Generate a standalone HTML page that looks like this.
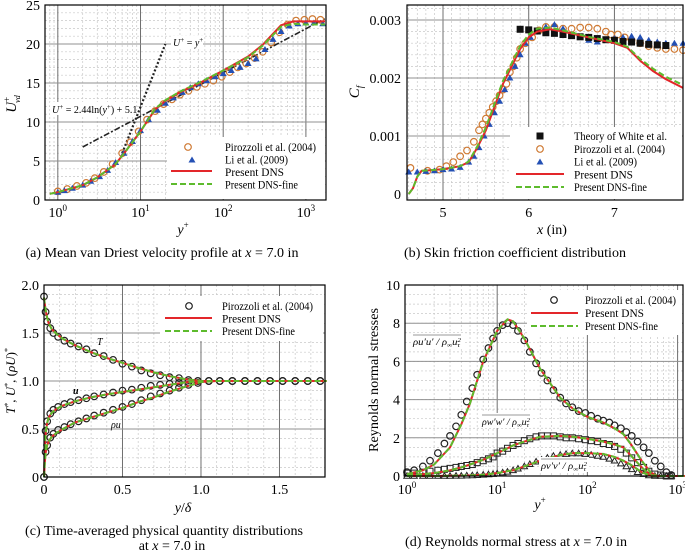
<!DOCTYPE html>
<html><head><meta charset="utf-8"><style>
body{margin:0;background:#fff}
svg{display:block;font-family:"Liberation Serif","Times New Roman",serif}
</style></head><body>
<svg id="fig" width="685" height="551" viewBox="0 0 685 551" xmlns="http://www.w3.org/2000/svg" font-family="Liberation Serif, Times New Roman, serif"></svg>
<script>
// ---------- Panel (a) data ----------
const aDnsY=[0.8,1,2,3,5,7,10,15,20,30,50,100,200,300,500,700,1000,1700];
const aDnsU=[0.8,1,1.9,2.9,4.6,6.6,8.8,11.6,12.7,13.8,14.9,16.6,18.4,19.9,22.4,22.9,22.9,22.9];
const aFineU=[0.8,1,1.9,2.9,4.6,6.6,8.8,11.7,12.8,13.9,15.0,16.6,18.3,19.8,22.2,22.6,22.5,22.5];
const aPirY=[1,1.3,1.7,2.2,2.8,3.6,4.6,6,7.5,9.5,12,15,19,24,30,38,48,60,76,96,120,150,190,240,300,380,480,600,760,960,1200,1500];
const aPirU=[1.1,1.4,1.8,2.2,2.8,3.6,4.6,6,7.4,8.8,10.3,11.4,12.3,12.9,13.5,14,14.5,14.9,15.3,15.8,16.4,17,17.5,18.2,19,20.2,21.5,22.5,23,23.1,23.2,23.1];
const aLiY=[1,1.2,1.5,2,2.5,3.2,4,5,6.3,8,10,12.5,16,20,25,32,40,50,63,80,100,125,160,200,250,320,400,500,630,800,1000,1250,1600];
const aLiU=[1,1.2,1.5,1.9,2.4,3,3.8,4.8,6,7.5,8.9,10.3,11.5,12.4,13.1,13.8,14.4,14.9,15.3,15.8,16.2,16.6,17,17.5,18.1,19.3,20.6,21.6,22.3,22.6,22.7,22.7,22.6];
const aVisY=[6,20];const aLogY=[2,1700];
// ---------- Panel (b) data ----------
const bDnsX=[4.6,4.65,4.7,4.75,4.85,5,5.2,5.3,5.4,5.5,5.6,5.7,5.8,5.9,6,6.1,6.25,6.4,6.7,7,7.15,7.3,7.45,7.6,7.8];
const bDnsC=[0,0.0001,0.0003,0.0004,0.00041,0.00043,0.00048,0.00055,0.0008,0.0011,0.0015,0.0019,0.0022,0.0025,0.0027,0.0028,0.00284,0.0028,0.0027,0.0026,0.00252,0.0023,0.00212,0.00198,0.00183];
const bFineC=[0,0.0001,0.0003,0.0004,0.00041,0.00043,0.00048,0.00056,0.00082,0.00115,0.00155,0.00195,0.00225,0.00255,0.00275,0.00285,0.00287,0.00282,0.00271,0.00262,0.00254,0.00233,0.00216,0.00202,0.00188];
const bWhiteX=[5.9,6.0,6.1,6.2,6.3,6.4,6.5,6.6,6.7,6.8,6.9,7.0,7.1,7.2,7.3,7.4,7.5,7.6];
const bWhiteC=[0.00284,0.00283,0.00281,0.00278,0.00277,0.00275,0.00273,0.00271,0.0027,0.00268,0.00266,0.00265,0.00263,0.00262,0.0026,0.00258,0.00257,0.00256];
const bPirX=[4.62,4.82,4.96,5.04,5.12,5.2,5.28,5.36,5.42,5.46,5.5,5.54,5.58,5.62,5.66,5.7,5.74,5.78,5.82,5.86,5.9,5.96,6.04,6.12,6.2,6.3,6.4,6.5,6.6,6.7,6.8,6.9,6.96,7.04,7.12,7.2,7.3,7.4,7.5,7.6,7.7,7.8];
const bPirC=[0.00045,0.0004,0.00042,0.00048,0.00055,0.00065,0.00075,0.0009,0.0011,0.0012,0.0013,0.0014,0.0015,0.0016,0.0017,0.0018,0.0019,0.0021,0.0022,0.00235,0.0025,0.0026,0.0027,0.00282,0.00288,0.00288,0.00285,0.00285,0.00287,0.00287,0.00285,0.0028,0.00275,0.00275,0.0027,0.00265,0.0026,0.00255,0.00252,0.0025,0.0025,0.00248];
const bLiX=[4.6,4.7,4.8,4.9,5,5.1,5.2,5.3,5.36,5.42,5.48,5.54,5.6,5.66,5.72,5.78,5.84,5.9,5.96,6.02,6.1,6.2,6.3,6.4,6.5,6.6,6.7,6.8,6.9,7,7.1,7.2,7.3,7.4,7.5,7.6,7.7,7.8];
const bLiC=[0.00038,0.00038,0.00039,0.0004,0.00042,0.00043,0.00046,0.00055,0.00065,0.0008,0.001,0.0012,0.0014,0.0016,0.0018,0.002,0.0022,0.0024,0.0026,0.0027,0.0028,0.00288,0.00292,0.00285,0.00275,0.0027,0.00265,0.00262,0.00265,0.00268,0.0027,0.00272,0.0027,0.00265,0.00262,0.0026,0.0026,0.0026];
// ---------- Panel (c) data ----------
const cY=[0,0.005,0.01,0.02,0.03,0.05,0.08,0.12,0.2,0.3,0.4,0.5,0.6,0.7,0.8,0.9,1.0,1.1,1.8];
const cT=[1.87,1.8,1.74,1.66,1.6,1.54,1.49,1.44,1.37,1.3,1.24,1.19,1.135,1.09,1.05,1.02,1.0,1.0,1.0];
const cU=[0,0.3,0.45,0.56,0.62,0.67,0.71,0.745,0.79,0.83,0.86,0.885,0.91,0.935,0.96,0.985,1.0,1.0,1.0];
const cRU=[0,0.15,0.25,0.33,0.37,0.42,0.46,0.5,0.57,0.62,0.67,0.72,0.78,0.83,0.89,0.94,0.99,1.0,1.0];
const cPirY=[0,0.01,0.02,0.04,0.06,0.09,0.13,0.17,0.22,0.27,0.32,0.38,0.44,0.5,0.56,0.62,0.68,0.74,0.8,0.86,0.92,0.98,1.05,1.12,1.2,1.28,1.36,1.44,1.52,1.6,1.68,1.76];
const cPirT=[1.88,1.72,1.62,1.55,1.5,1.46,1.42,1.39,1.36,1.33,1.29,1.26,1.22,1.18,1.15,1.11,1.08,1.06,1.04,1.03,1.01,1.0,1.0,1.0,1.0,1.0,1.0,1.0,1.0,1.0,1.0,1.0];
const cPirU=[0,0.48,0.58,0.66,0.7,0.73,0.76,0.78,0.8,0.82,0.84,0.86,0.88,0.9,0.91,0.93,0.95,0.96,0.97,0.98,0.99,1.0,1.0,1.0,1.0,1.0,1.0,1.0,1.0,1.0,1.0,1.0];
const cPirRU=[0,0.26,0.33,0.41,0.45,0.49,0.52,0.55,0.58,0.61,0.64,0.67,0.7,0.73,0.76,0.8,0.84,0.87,0.9,0.93,0.96,0.98,1.0,1.0,1.0,1.0,1.0,1.0,1.0,1.0,1.0,1.0];
// ---------- Panel (d) data ----------
const dY=[1,1.5,2,3,4,5,7,10,13,15,20,30,50,70,100,150,200,250,300,400,500,600,1200];
const dUU=[0.1,0.3,0.6,1.5,2.7,3.8,6,7.6,8.2,8.1,7.2,5.6,4.1,3.5,3.1,2.8,2.5,2.2,1.7,0.8,0.2,0,0];
const dWW=[0.05,0.1,0.15,0.3,0.45,0.6,0.85,1.2,1.45,1.6,1.8,2.05,2.1,2.05,1.95,1.8,1.65,1.5,1.1,0.45,0.05,0,0];
const dVV=[0,0,0,0.01,0.02,0.03,0.07,0.15,0.25,0.3,0.5,0.8,1.1,1.2,1.2,1.15,1.0,0.8,0.6,0.2,0.02,0,0];
const dPY=[1,1.2,1.5,1.8,2.2,2.6,3,3.5,4,4.6,5.3,6,7,8,9,10,11.5,13,15,17,20,23,27,31,36,42,50,58,68,80,95,110,130,150,175,200,235,270,310,360,420,480,560,650,750,850];
const dPUU=[0.2,0.3,0.5,0.8,1.2,1.7,2.1,2.6,3.2,3.9,4.6,5.3,6.1,6.7,7.2,7.6,7.9,8.0,7.9,7.6,7.1,6.5,5.9,5.4,5,4.5,4.1,3.8,3.6,3.4,3.3,3.15,3,2.9,2.8,2.65,2.5,2.3,2.1,1.8,1.5,1.2,0.8,0.5,0.2,0.05];
const dPWW=[0.15,0.15,0.2,0.25,0.3,0.35,0.4,0.45,0.5,0.55,0.6,0.7,0.8,0.9,1.0,1.2,1.3,1.45,1.6,1.7,1.85,1.95,2.05,2.1,2.1,2.1,2.05,2.0,2.0,1.95,1.9,1.85,1.8,1.7,1.65,1.55,1.4,1.2,0.95,0.7,0.45,0.25,0.1,0.05,0,0];
const dPVV=[0,0,0,0,0,0,0,0.01,0.01,0.02,0.03,0.04,0.06,0.08,0.1,0.13,0.18,0.22,0.3,0.38,0.5,0.62,0.75,0.85,0.95,1.05,1.1,1.15,1.18,1.18,1.15,1.1,1.05,1.0,0.9,0.8,0.65,0.5,0.35,0.2,0.1,0.03,0,0,0,0];

const NS="http://www.w3.org/2000/svg";
const svg=document.getElementById('fig');
function el(tag,attrs,parent){const e=document.createElementNS(NS,tag);for(const k in attrs)e.setAttribute(k,attrs[k]);(parent||svg).appendChild(e);return e;}
function txt(x,y,s,size,anchor,parent,style,tl){const t=el('text',{x:x,y:y,'font-size':size,'text-anchor':anchor||'start','font-family':'Liberation Serif, Times New Roman, serif'},parent);if(style)t.setAttribute('style',style);if(tl){t.setAttribute('textLength',tl);t.setAttribute('lengthAdjust','spacingAndGlyphs');}t.innerHTML=s;return t;}
const RED="#e3262a",GREEN="#5dbb2d",ORANGE="#cf7a34",BLUE="#2450b4";

function linScale(d0,d1,p0,p1){return v=>p0+(v-d0)/(d1-d0)*(p1-p0);}
function logScale(d0,d1,p0,p1){return v=>p0+(Math.log10(v)-Math.log10(d0))/(Math.log10(d1)-Math.log10(d0))*(p1-p0);}

function frame(g,L,T,R,B,vMinor,vMajor,hMinor,hMajor){
  vMinor.forEach(p=>el('line',{x1:p,x2:p,y1:T,y2:B,stroke:'#c8c8c8','stroke-width':0.7,'stroke-dasharray':'2,2'},g));
  hMinor.forEach(p=>el('line',{x1:L,x2:R,y1:p,y2:p,stroke:'#c8c8c8','stroke-width':0.7,'stroke-dasharray':'2,2'},g));
  vMajor.forEach(p=>el('line',{x1:p,x2:p,y1:T,y2:B,stroke:'#707070','stroke-width':1},g));
  hMajor.forEach(p=>el('line',{x1:L,x2:R,y1:p,y2:p,stroke:'#909090','stroke-width':1},g));
}
function border(g,L,T,R,B){el('rect',{x:L,y:T,width:R-L,height:B-T,fill:'none',stroke:'#000','stroke-width':1.2},g);}
function path(g,xs,ys,X,Y,color,dash,w){
  const d=xs.map((v,i)=>(i?'L':'M')+X(v).toFixed(1)+','+Y(ys[i]).toFixed(1)).join(' ');
  const p=el('path',{d:d,fill:'none',stroke:color,'stroke-width':w||2},g);
  if(dash)p.setAttribute('stroke-dasharray',dash);return p;
}
function circ(g,x,y,c){return el('circle',{cx:x,cy:y,r:3.3,fill:'none',stroke:c,'stroke-width':1.2},g);}
function tri(g,x,y,c){return el('path',{d:`M${x},${y-3.5} L${x+3.5},${y+2.5} L${x-3.5},${y+2.5} Z`,fill:c},g);}
function triO(g,x,y,c){return el('path',{d:`M${x},${y-3.2} L${x+3.2},${y+2.3} L${x-3.2},${y+2.3} Z`,fill:'none',stroke:c,'stroke-width':1},g);}
function sq(g,x,y,c,fill){return el('rect',{x:x-3,y:y-3,width:6,height:6,fill:fill?c:'none',stroke:c,'stroke-width':1},g);}
function logMinor(d0,d1,X){const a=[];for(let e=-1;e<4;e++)for(let m=2;m<10;m++){const v=m*Math.pow(10,e);if(v>d0&&v<d1)a.push(X(v));}return a;}
function range(a,b,s){const r=[];for(let v=a;v<=b+1e-9;v+=s)r.push(+v.toFixed(6));return r;}
function pow10(x,y,e,g){const t=txt(x,y,'10',14,'middle',g);const s=el('tspan',{dy:-6,'font-size':9},t);s.textContent=e;return t;}
const LEG=['Pirozzoli et al. (2004)','Li et al. (2009)','Present DNS','Present DNS-fine'];
const LEGW=[91,63,59,73];

// ================= Panel A =================
(function(){
  const g=el('g',{});
  
  const L=45,R=326,T=5,B=200;const X=logScale(0.7,1750,L,R),Y=linScale(0,25,B,T);
  frame(g,L,T,R,B,logMinor(0.7,1750,X),[X(1),X(10),X(100),X(1000)],range(1,24,1).map(Y),[5,10,15,20].map(Y));
  const vis=path(g,aVisY,aVisY,X,Y,'#222','2,2',2.2);
  const ly=[];for(let i=0;i<=40;i++)ly.push(aLogY[0]*Math.pow(aLogY[1]/aLogY[0],i/40));
  const lg=path(g,ly,ly.map(v=>2.44*Math.log(v)+5.1),X,Y,'#222','6,2,2,2',1.6);
  aPirY.forEach((v,i)=>circ(g,X(v),Y(aPirU[i]),ORANGE));
  aLiY.forEach((v,i)=>tri(g,X(v),Y(aLiU[i]),BLUE));
  path(g,aDnsY,aDnsU,X,Y,RED,null,2);
  path(g,aDnsY,aFineU,X,Y,GREEN,'6,3',2);
  el('rect',{x:171,y:36,width:32,height:12,fill:'#fff'},g);
  txt(173,46,'<tspan font-style="italic">U</tspan><tspan dy="-4" font-size="7">+</tspan><tspan dy="4"> = </tspan><tspan font-style="italic">y</tspan><tspan dy="-4" font-size="7">+</tspan>',10,'start',g);
  el('rect',{x:50,y:102,width:84,height:13,fill:'#fff'},g);
  txt(52,113,'<tspan font-style="italic">U</tspan><tspan dy="-4" font-size="7">+</tspan><tspan dy="4"> = 2.44ln(</tspan><tspan font-style="italic">y</tspan><tspan dy="-4" font-size="7">+</tspan><tspan dy="4">) + 5.1</tspan>',10,'start',g);
  const lgd=el('g',{},g);
  el('rect',{x:167,y:137,width:158,height:62,fill:'#fff'},lgd);
  circ(lgd,188,147,ORANGE);tri(lgd,192,160,BLUE);
  el('line',{x1:171,x2:212,y1:171,y2:171,stroke:RED,'stroke-width':2},lgd);
  el('line',{x1:171,x2:212,y1:184,y2:184,stroke:GREEN,'stroke-width':2,'stroke-dasharray':'6,3'},lgd);
  LEG.forEach((s,i)=>txt(225,151+i*12.5,s,11.5,'start',lgd,null,LEGW[i]));
  border(g,L,T,R,B);
  [0,5,10,15,20,25].forEach(v=>txt(40,Y(v)+5,v,14,'end',g));
  [[1,'0'],[10,'1'],[100,'2'],[1000,'3']].forEach(p=>pow10(X(p[0]),217,p[1],g));
  txt(183,234,'<tspan font-style="italic">y</tspan><tspan dy="-6" font-size="9">+</tspan>',14,'middle',g);
  const yl=txt(0,0,'<tspan font-style="italic">U</tspan><tspan dy="-6" font-size="9">+</tspan><tspan dx="-6" dy="10" font-size="8" font-style="italic">vd</tspan>',15,'middle',g);yl.setAttribute('transform','translate(16,104) rotate(-90)');
  const cap=txt(162,257,'(a) Mean van Driest velocity profile at <tspan font-style="italic">x</tspan> = 7.0 in',14,'middle',g,null,273);
})();

// ================= Panel B =================
(function(){
  const g=el('g',{});
  
  const L=407,R=683,T=5,B=200;const X=linScale(4.58,7.8,L,R),Y=linScale(0,0.003,194,20);
  frame(g,L,T,R,B,range(4.6,7.8,0.1).map(X),[5,6,7].map(X),range(0.0002,0.0032,0.0002).map(Y),[0.001,0.002,0.003].map(Y));
  bPirX.forEach((v,i)=>circ(g,X(v),Y(bPirC[i]),ORANGE));
  bLiX.forEach((v,i)=>tri(g,X(v),Y(bLiC[i]),BLUE));
  bWhiteX.forEach((v,i)=>sq(g,X(v),Y(bWhiteC[i]),'#111',true));
  path(g,bDnsX,bDnsC,X,Y,RED,null,2);
  path(g,bDnsX,bFineC,X,Y,GREEN,'6,3',2);
  const lgd=el('g',{},g);
  el('rect',{x:510,y:127,width:172,height:72,fill:'#fff'},lgd);
  sq(lgd,540,136,'#111',true);circ(lgd,540,149,ORANGE);tri(lgd,540,162,BLUE);
  el('line',{x1:516,x2:564,y1:174,y2:174,stroke:RED,'stroke-width':2},lgd);
  el('line',{x1:516,x2:564,y1:187,y2:187,stroke:GREEN,'stroke-width':2,'stroke-dasharray':'6,3'},lgd);
  txt(574,140,'Theory of White et al.',11.5,'start',lgd,null,93);
  LEG.forEach((s,i)=>txt(574,153+i*12.7,s,11.5,'start',lgd,null,LEGW[i]));
  border(g,L,T,R,B);
  [[0,'0'],[0.001,'0.001'],[0.002,'0.002'],[0.003,'0.003']].forEach(p=>txt(401,Y(p[0])+5,p[1],14,'end',g));
  [5,6,7].forEach(v=>txt(X(v),217,v,14,'middle',g));
  txt(552,234,'<tspan font-style="italic">x</tspan> (in)',14,'middle',g);
  const yl=txt(0,0,'<tspan font-style="italic">C</tspan><tspan dy="4" font-size="9" font-style="italic">f</tspan>',15,'middle',g);yl.setAttribute('transform','translate(359,92) rotate(-90)');
  const cap=txt(515,257,'(b) Skin friction coefficient distribution',14,'middle',g,null,222);
})();

// ================= Panel C =================
(function(){
  const g=el('g',{});
  
  const L=44,R=325,T=285,B=477;const X=linScale(0,1.79,L,R),Y=linScale(0,2,B,T);
  frame(g,L,T,R,B,range(0.1,1.7,0.1).map(X),[0.5,1,1.5].map(X),range(0.1,1.9,0.1).map(Y),[0.5,1,1.5].map(Y));
  cPirY.forEach((v,i)=>{circ(g,X(v),Y(cPirT[i]),'#222');circ(g,X(v),Y(cPirU[i]),'#222');circ(g,X(v),Y(cPirRU[i]),'#222');});
  [cT,cU,cRU].forEach(s=>{path(g,cY,s,X,Y,RED,null,2);path(g,cY,s,X,Y,GREEN,'6,3',2);});
  txt(97,345,'T',10,'start',g,'font-style:italic');
  txt(73,394,'u',10,'start',g,'font-style:italic;font-weight:bold');
  txt(111,428,'ρu',10,'start',g,'font-style:italic');
  const lgd=el('g',{},g);
  el('rect',{x:160,y:296,width:163,height:45,fill:'#fff'},lgd);
  circ(lgd,189,306,'#222');
  el('line',{x1:165,x2:212,y1:318,y2:318,stroke:RED,'stroke-width':2},lgd);
  el('line',{x1:165,x2:212,y1:331,y2:331,stroke:GREEN,'stroke-width':2,'stroke-dasharray':'6,3'},lgd);
  [0,2,3].forEach((k,i)=>txt(222,310+i*12.5,LEG[k],11.5,'start',lgd,null,LEGW[k]));
  border(g,L,T,R,B);
  [[0,'0'],[0.5,'0.5'],[1,'1.0'],[1.5,'1.5'],[2,'2.0']].forEach(p=>txt(39,Y(p[0])+5,p[1],14,'end',g));
  [[0,'0'],[0.5,'0.5'],[1,'1.0'],[1.5,'1.5']].forEach(p=>txt(X(p[0]),494,p[1],14,'middle',g));
  txt(183,512,'<tspan font-style="italic">y</tspan>/<tspan font-style="italic">δ</tspan>',14,'middle',g);
  const yl=txt(0,0,'<tspan font-style="italic">T</tspan><tspan dy="-5" font-size="8">*</tspan><tspan dy="5">, </tspan><tspan font-style="italic">U</tspan><tspan dy="-5" font-size="8">*</tspan><tspan dy="5">, (</tspan><tspan font-style="italic">ρU</tspan><tspan>)</tspan><tspan dy="-5" font-size="8">*</tspan>',13,'middle',g);yl.setAttribute('transform','translate(15,381) rotate(-90)');
  const cap=txt(164,535,'(c) Time-averaged physical quantity distributions',14,'middle',g,null,278);
  txt(172,550,'at <tspan font-style="italic">x</tspan> = 7.0 in',14,'middle',g);
})();

// ================= Panel D =================
(function(){
  const g=el('g',{});
  
  const L=405,R=683,T=285,B=476;const X=logScale(Math.pow(10,-0.022),Math.pow(10,3.06),L,R),Y=linScale(0,10,B,T);
  frame(g,L,T,R,B,logMinor(0.95,1150,X),[X(10),X(100),X(1000)],range(0.5,9.5,0.5).map(Y),[2,4,6,8].map(Y));
  dPY.forEach((v,i)=>{circ(g,X(v),Y(dPUU[i]),'#222');sq(g,X(v),Y(dPWW[i]),'#222',false);triO(g,X(v),Y(dPVV[i]),'#222');});
  [dUU,dWW,dVV].forEach(s=>{path(g,dY,s,X,Y,RED,null,2);path(g,dY,s,X,Y,GREEN,'6,3',2);});
  [[437,345,48],[506,425,48],[564,469,46]].forEach((p,i)=>{
    const lbl=['ρu′u′ / ρ<tspan dy="2" font-size="6">∞</tspan><tspan dy="-2">u</tspan><tspan dy="-3" font-size="6">2</tspan><tspan dx="-3" dy="5" font-size="6">τ</tspan>','ρw′w′ / ρ<tspan dy="2" font-size="6">∞</tspan><tspan dy="-2">u</tspan><tspan dy="-3" font-size="6">2</tspan><tspan dx="-3" dy="5" font-size="6">τ</tspan>','ρv′v′ / ρ<tspan dy="2" font-size="6">∞</tspan><tspan dy="-2">u</tspan><tspan dy="-3" font-size="6">2</tspan><tspan dx="-3" dy="5" font-size="6">τ</tspan>'][i];
    el('rect',{x:p[0]-p[2]/2-2,y:p[1]-12,width:p[2]+4,height:15,fill:'#fff'},g);
    txt(p[0],p[1],lbl,9,'middle',g,'font-style:italic',p[2]);
    el('line',{x1:p[0]-p[2]/2,x2:p[0]+p[2]/2,y1:p[1]-10,y2:p[1]-10,stroke:'#333','stroke-width':0.6},g);
  });
  const lgd=el('g',{},g);
  el('rect',{x:527,y:290,width:155,height:45,fill:'#fff'},lgd);
  circ(lgd,554,300,'#222');
  el('line',{x1:531,x2:578,y1:313,y2:313,stroke:RED,'stroke-width':2},lgd);
  el('line',{x1:531,x2:578,y1:326,y2:326,stroke:GREEN,'stroke-width':2,'stroke-dasharray':'6,3'},lgd);
  [0,2,3].forEach((k,i)=>txt(585,304+i*13,LEG[k],11.5,'start',lgd,null,LEGW[k]));
  border(g,L,T,R,B);
  [0,2,4,6,8,10].forEach(v=>txt(400,Y(v)+5,v,14,'end',g));
  [[1,'0'],[10,'1'],[100,'2'],[1000,'3']].forEach(p=>pow10(X(p[0]),494,p[1],g));
  txt(540,509,'<tspan font-style="italic">y</tspan><tspan dy="-6" font-size="9">+</tspan>',14,'middle',g);
  const yl=txt(0,0,'Reynolds normal stresses',14,'middle',g,null,144);yl.setAttribute('transform','translate(378,380) rotate(-90)');
  const cap=txt(516,546,'(d) Reynolds normal stress at <tspan font-style="italic">x</tspan> = 7.0 in',14,'middle',g,null,222);
})();
</script>
</body></html>
